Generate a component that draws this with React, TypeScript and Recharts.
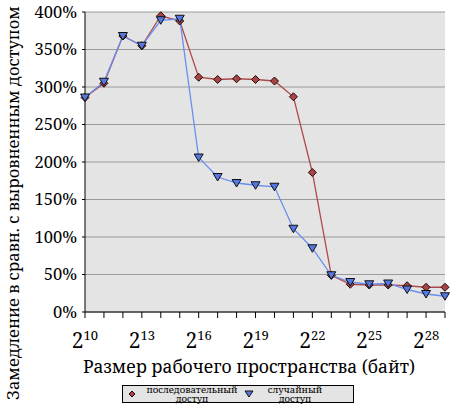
import React from 'react'
import { LineChart, Line, XAxis, YAxis, CartesianGrid, Legend } from 'recharts'

// log2 of the working-set size, in bytes
const exponents = [10, 11, 12, 13, 14, 15, 16, 17, 18, 19, 20, 21, 22, 23, 24, 25, 26, 27, 28, 29]
const labeledExponents = [10, 13, 16, 19, 22, 25, 28]
const sequential = [286, 305, 368, 355, 395, 388, 313, 310, 311, 310, 308, 287, 186, 49, 37, 36, 36, 35, 33, 33]
const random = [286, 307, 368, 355, 389, 391, 206, 180, 172, 169, 167, 111, 85, 49, 40, 37, 38, 30, 24, 21]
const yTicks = [0, 50, 100, 150, 200, 250, 300, 350, 400]

const SEQ_NAME = 'последовательный доступ'
const RND_NAME = 'случайный доступ'

const data = exponents.map((p, i) => ({ p, seq: sequential[i], rnd: random[i] }))

const FONT = '"Noto Serif", "Liberation Serif", serif'
const RED = '#b04a4a'
const BLUE = '#6a8ef0'

const Diamond = (props: any) => {
  const { cx, cy, index } = props
  return (
    <polygon
      key={`d${index}`}
      points={`${cx},${cy - 4} ${cx + 4},${cy} ${cx},${cy + 4} ${cx - 4},${cy}`}
      fill="#a84444"
      stroke="#220808"
      strokeWidth={1}
    />
  )
}

const Triangle = (props: any) => {
  const { cx, cy, index } = props
  return (
    <polygon
      key={`t${index}`}
      points={`${cx - 4.5},${cy - 3.5} ${cx + 4.5},${cy - 3.5} ${cx},${cy + 4}`}
      fill="#5578e0"
      stroke="#101010"
      strokeWidth={1}
    />
  )
}

const PowerTick = (props: any) => {
  const { x, y, payload } = props
  if (!labeledExponents.includes(payload.value)) return <g />
  return (
    <text x={x} y={y + 28} textAnchor="middle" fontFamily={FONT} fill="#000">
      <tspan fontSize={21}>2</tspan>
      <tspan fontSize={13} dy={-8}>{payload.value}</tspan>
    </text>
  )
}

const XTitle = (props: any) => {
  const { viewBox } = props
  return (
    <text
      x={viewBox.x + viewBox.width / 2 - 16}
      y={viewBox.y + 61}
      textAnchor="middle"
      fontFamily={FONT}
      fontSize={17.5}
      fill="#000"
    >
      Размер рабочего пространства (байт)
    </text>
  )
}

const YTitle = (props: any) => {
  const { viewBox } = props
  const cx = 19
  const cy = viewBox.y + viewBox.height / 2 + 41
  return (
    <text
      x={cx}
      y={cy}
      transform={`rotate(-90 ${cx} ${cy})`}
      textAnchor="middle"
      fontFamily={FONT}
      fontSize={16.5}
      fill="#000"
    >
      Замедление в сравн. с выровненным доступом
    </text>
  )
}

const LegendBox = () => (
  <div
    style={{
      width: 230,
      height: 16,
      border: '1px solid #000',
      background: '#e4e4e4',
      display: 'flex',
      alignItems: 'center',
      fontFamily: FONT,
      fontSize: 9.5,
      lineHeight: '9px',
      color: '#000',
    }}
  >
    <svg width={18} height={16}>
      <polygon points="9,5 12,8 9,11 6,8" fill="#a84444" stroke="#220808" />
    </svg>
    <div style={{ width: 102, textAlign: 'center' }}>
      {SEQ_NAME.split(' ')[0]}
      <br />
      {SEQ_NAME.split(' ')[1]}
    </div>
    <svg width={12} height={16}>
      <polygon points="2,5 10,5 6,11" fill="#5578e0" stroke="#101010" />
    </svg>
    <div style={{ width: 80, textAlign: 'center' }}>
      {RND_NAME.split(' ')[0]}
      <br />
      {RND_NAME.split(' ')[1]}
    </div>
  </div>
)

export default function App() {
  return (
    <>
      <style>{'body{margin:0}'}</style>
      <LineChart width={453} height={405} data={data} margin={{ top: 12, right: 8, left: 0, bottom: 0 }}>
        <CartesianGrid vertical={false} fill="#e4e4e4" stroke="#9a9a9a" strokeWidth={1} />
        <XAxis
          dataKey="p"
          type="number"
          domain={[10, 29]}
          ticks={exponents}
          interval={0}
          height={73}
          tickSize={6}
          axisLine={{ stroke: '#000' }}
          tickLine={{ stroke: '#000' }}
          tick={<PowerTick />}
          label={<XTitle />}
        />
        <YAxis
          domain={[0, 400]}
          ticks={yTicks}
          width={85}
          tickSize={3}
          tickMargin={5}
          axisLine={{ stroke: '#000' }}
          tickLine={{ stroke: '#000' }}
          tickFormatter={(v) => `${v}%`}
          tick={{ fontFamily: FONT, fontSize: 16.5, fill: '#000' }}
          label={<YTitle />}
        />
        <Legend
          verticalAlign="bottom"
          height={20}
          content={<LegendBox />}
          wrapperStyle={{ left: 122, width: 232 }}
        />
        <Line
          dataKey="seq"
          name={SEQ_NAME}
          stroke={RED}
          strokeWidth={1.3}
          dot={Diamond}
          activeDot={false}
          isAnimationActive={false}
        />
        <Line
          dataKey="rnd"
          name={RND_NAME}
          stroke={BLUE}
          strokeWidth={1.3}
          dot={Triangle}
          activeDot={false}
          isAnimationActive={false}
        />
      </LineChart>
    </>
  )
}
